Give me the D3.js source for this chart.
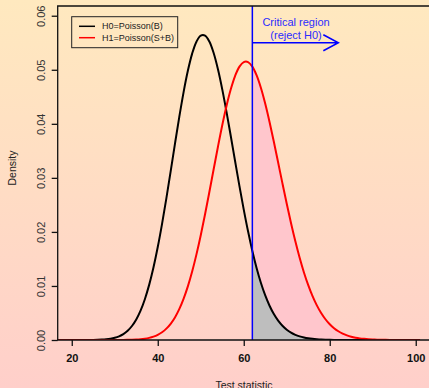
<!DOCTYPE html>
<html>
<head>
<meta charset="utf-8">
<script src="https://cdn.jsdelivr.net/npm/d3@7"></script>
<style>
  html, body { margin: 0; padding: 0; }
  svg { display: block; font-family: "Liberation Sans", Arial, sans-serif; }
</style>
</head>
<body>
<svg id="chart" width="429" height="388"></svg>
<script>
// test statistic grid (x) and densities
const testStat = [16,17,18,19,20,21,22,23,24,25,26,27,28,29,30,31,32,33,34,35,36,37,38,39,40,
  41,42,43,44,45,46,47,48,49,50,51,52,53,54,55,56,57,58,59,60,61,62,63,64,65,66,67,68,69,70,
  71,72,73,74,75,76,77,78,79,80,81,82,83,84,85,86,87,88,89,90,91,92,93,94,95,96,97,98,99,100,101];

const densH0 = [0, 0.00000001, 0.00000004, 0.00000012, 0.0000003, 0.00000076, 0.0000018, 0.0000041,
  0.0000089, 0.0000185, 0.0000371, 0.0000713, 0.000132, 0.000236, 0.000406, 0.000677, 0.00109,
  0.00171, 0.00259, 0.00380, 0.00543, 0.00755, 0.01020, 0.01342, 0.01720, 0.02150, 0.02622,
  0.03121, 0.03630, 0.04124, 0.04583, 0.04981, 0.05299, 0.05520, 0.05633, 0.05633, 0.05522,
  0.05310, 0.05009, 0.04638, 0.04217, 0.03765, 0.03302, 0.02847, 0.02413, 0.02011, 0.01648,
  0.01329, 0.01055, 0.00824, 0.00634, 0.00480, 0.00358, 0.00264, 0.00191, 0.00136, 0.00096,
  0.00067, 0.00046, 0.00031, 0.00021, 0.00014, 0.000088, 0.000056, 0.000036, 0.000022, 0.000014,
  0.0000084, 0.0000051, 0.000003, 0.0000018, 0.000001, 0.0000006, 0.0000003, 0.0000002, 0.0000001,
  0, 0, 0, 0, 0, 0, 0, 0, 0, 0];

const densH1 = [0, 0, 0, 0, 0, 0, 0, 0, 0.00000003, 0.00000007, 0.00000016, 0.00000037, 0.00000082,
  0.0000018, 0.0000036, 0.0000073, 0.0000141, 0.0000265, 0.0000482, 0.000085, 0.000146, 0.000243,
  0.000394, 0.000622, 0.000956, 0.00143, 0.00210, 0.00300, 0.00418, 0.00571, 0.00761, 0.00992,
  0.01267, 0.01584, 0.01939, 0.02327, 0.02738, 0.03159, 0.03576, 0.03974, 0.04335, 0.04644,
  0.04889, 0.05058, 0.05143, 0.05143, 0.05059, 0.04896, 0.04663, 0.04371, 0.04035, 0.03668,
  0.03285, 0.02898, 0.02520, 0.02160, 0.01826, 0.01521, 0.01250, 0.01014, 0.00811, 0.00640,
  0.00499, 0.00384, 0.00291, 0.00219, 0.00162, 0.00118, 0.00086, 0.00061, 0.00043, 0.00030,
  0.00021, 0.00014, 0.000096, 0.000064, 0.000042, 0.000027, 0.000018, 0.000011, 0.0000071,
  0.0000045, 0.0000028, 0.0000017, 0.000001, 0.0000006];

const criticalValue = 62;
const arrowEnd = 82;
const arrowLevel = 0.055;
const xTicks = [20, 40, 60, 80, 100];
const yTicks = [0, 0.01, 0.02, 0.03, 0.04, 0.05, 0.06];
const legendLabels = ["H0=Poisson(B)", "H1=Poisson(S+B)"];
const legendColors = ["black", "red"];

const svg = d3.select("#chart");
const W = 429, H = 388;
const plot = { left: 57.7, top: 6, right: 430, bottom: 340 };

// background gradient
const defs = svg.append("defs");
const grad = defs.append("linearGradient").attr("id", "bg")
  .attr("x1", 0).attr("y1", 0).attr("x2", 0).attr("y2", 1);
grad.append("stop").attr("offset", "0%").attr("stop-color", "#ffe9bf");
grad.append("stop").attr("offset", "50%").attr("stop-color", "#ffdcc4");
grad.append("stop").attr("offset", "100%").attr("stop-color", "#ffcfca");
svg.append("rect").attr("width", W).attr("height", H).attr("fill", "url(#bg)");

defs.append("clipPath").attr("id", "clip").append("rect")
  .attr("x", plot.left).attr("y", plot.top)
  .attr("width", plot.right - plot.left).attr("height", plot.bottom - plot.top);

const x = d3.scaleLinear().domain([16.8, 103.2]).range([58, 429.5]);
const y = d3.scaleLinear().domain([0, 0.0618]).range([340, 6]);

const pts0 = testStat.map((t, i) => ({ x: t, y: densH0[i] }));
const pts1 = testStat.map((t, i) => ({ x: t, y: densH1[i] }));

const smooth = d3.curveCatmullRom.alpha(0.5);
const line = d3.line().x(d => x(d.x)).y(d => y(d.y)).curve(smooth);
const area = d3.area().x(d => x(d.x)).y0(y(0)).y1(d => y(d.y)).curve(smooth);

const g = svg.append("g").attr("clip-path", "url(#clip)");

// rejection region fills
g.append("path").datum(pts1.filter(d => d.x >= criticalValue))
  .attr("d", area).attr("fill", "#ffc6cc");
g.append("path").datum(pts0.filter(d => d.x >= criticalValue))
  .attr("d", area).attr("fill", "#bebebe");

g.append("path").datum(pts0).attr("d", line)
  .attr("fill", "none").attr("stroke", "black").attr("stroke-width", 2);
g.append("path").datum(pts1).attr("d", line)
  .attr("fill", "none").attr("stroke", "red").attr("stroke-width", 2);

// critical line and arrow
g.append("line")
  .attr("x1", x(criticalValue)).attr("x2", x(criticalValue))
  .attr("y1", plot.top).attr("y2", plot.bottom)
  .attr("stroke", "blue").attr("stroke-width", 1.5);
const ay = y(arrowLevel), ax = x(arrowEnd);
g.append("path")
  .attr("d", `M${x(criticalValue)},${ay}H${ax}M${ax - 15},${ay - 8}L${ax},${ay}L${ax - 15},${ay + 8}`)
  .attr("fill", "none").attr("stroke", "blue").attr("stroke-width", 1.5);

g.append("text").attr("x", 296).attr("y", 25.5).attr("text-anchor", "middle")
  .attr("font-size", 11).attr("fill", "#2b2bff").text("Critical region");
g.append("text").attr("x", 296).attr("y", 39).attr("text-anchor", "middle")
  .attr("font-size", 11).attr("fill", "#2b2bff").text("(reject H0)");

// box
svg.append("path")
  .attr("d", `M${W},${plot.top}H${plot.left}V${plot.bottom}H${W}`)
  .attr("fill", "none").attr("stroke", "#111").attr("stroke-width", 1.3);

// x axis
const xAxis = svg.append("g").attr("transform", `translate(0,${plot.bottom})`)
  .call(d3.axisBottom(x).tickValues(xTicks).tickSize(6).tickPadding(8).tickFormat(d3.format("d")));
xAxis.select(".domain").remove();
xAxis.selectAll("line").attr("stroke", "#111").attr("stroke-width", 1.3);
xAxis.selectAll("text").attr("font-size", 11).attr("font-weight", "bold")
  .attr("font-family", "Liberation Sans, Arial, sans-serif").attr("fill", "#111");

// y axis
const yAxis = svg.append("g").attr("transform", `translate(${plot.left},0)`)
  .call(d3.axisLeft(y).tickValues(yTicks).tickSize(6).tickFormat(d3.format(".2f")));
yAxis.select(".domain").remove();
yAxis.selectAll("line").attr("stroke", "#111").attr("stroke-width", 1.3);
yAxis.selectAll("text")
  .attr("font-size", 11).attr("font-family", "Liberation Sans, Arial, sans-serif").attr("fill", "#333")
  .attr("text-anchor", "middle").attr("x", null).attr("dy", null)
  .attr("transform", "translate(-17,0) rotate(-90)").attr("y", 0).attr("dy", "0.35em");

// axis titles
svg.append("text").attr("x", 244).attr("y", 389).attr("text-anchor", "middle")
  .attr("font-size", 10.5).attr("fill", "#222").text("Test statistic");
svg.append("text").attr("transform", "translate(16,168) rotate(-90)").attr("text-anchor", "middle")
  .attr("font-size", 10.5).attr("fill", "#222").text("Density");

// legend
const leg = svg.append("g");
leg.append("rect").attr("x", 71.7).attr("y", 16.7).attr("width", 106).attr("height", 31)
  .attr("fill", "none").attr("stroke", "#222").attr("stroke-width", 1);
legendLabels.forEach((lab, i) => {
  const ly = 26.3 + i * 11.4;
  leg.append("line").attr("x1", 79).attr("x2", 95).attr("y1", ly).attr("y2", ly)
    .attr("stroke", legendColors[i]).attr("stroke-width", 1.5);
  leg.append("text").attr("x", 102).attr("y", ly).attr("dy", "0.35em")
    .attr("font-size", 9).attr("fill", "#222").text(lab);
});
</script>
</body>
</html>
